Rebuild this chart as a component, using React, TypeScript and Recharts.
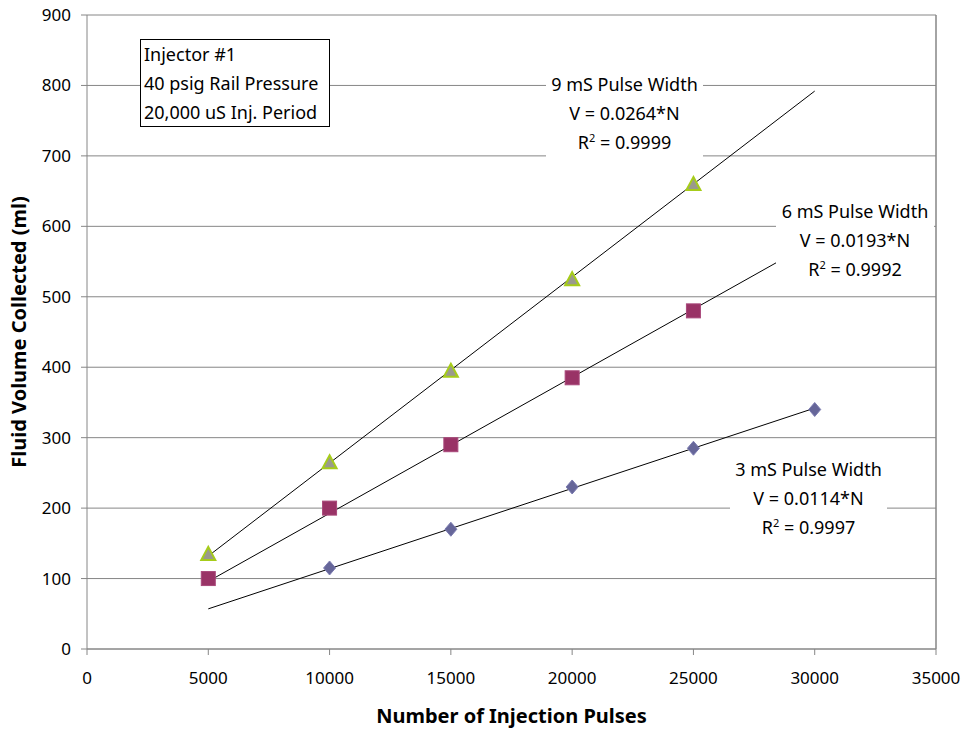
import React from "react"
import {
  ComposedChart,
  Scatter,
  Line,
  XAxis,
  YAxis,
  CartesianGrid,
  ReferenceLine,
} from "recharts"

// measured points (injection pulses -> ml collected)
const pulses9 = [5000, 10000, 15000, 20000, 25000]
const volume9 = [135, 265, 395, 525, 660]
const pulses6 = [5000, 10000, 15000, 20000, 25000]
const volume6 = [100, 200, 290, 385, 480]
const pulses3 = [10000, 15000, 20000, 25000, 30000]
const volume3 = [115, 170, 230, 285, 340]

// trendline end points
const trendPulses9 = [5000, 30000]
const trendVolume9 = [132, 792]
const trendPulses6 = [5000, 28500]
const trendVolume6 = [96, 550]
const trendPulses3 = [5000, 30000]
const trendVolume3 = [57, 342]

const xTicks = [0, 5000, 10000, 15000, 20000, 25000, 30000, 35000]
const yTicks = [0, 100, 200, 300, 400, 500, 600, 700, 800, 900]

const FONT = "'Noto Sans', 'Open Sans', sans-serif"
const GRID = "#868686"

const zip = (xs: number[], ys: number[]) => xs.map((x, i) => ({ x, y: ys[i] }))

const Triangle = (p: any) => (
  <polygon
    points={`${p.cx},${p.cy - 7} ${p.cx + 7},${p.cy + 6} ${p.cx - 7},${p.cy + 6}`}
    fill="#9a9a8c"
    stroke="#a6cc1a"
    strokeWidth={2}
  />
)
const Square = (p: any) => (
  <rect x={p.cx - 7} y={p.cy - 7} width={14} height={14} fill="#993366" stroke="#a8487a" />
)
const Diamond = (p: any) => (
  <polygon
    points={`${p.cx},${p.cy - 7} ${p.cx + 6},${p.cy} ${p.cx},${p.cy + 7} ${p.cx - 6},${p.cy}`}
    fill="#666699"
    stroke="#7a7ab0"
  />
)

const textStyle: React.CSSProperties = {
  position: "absolute",
  fontFamily: FONT,
  fontSize: 18,
  color: "#000",
  background: "white",
  textAlign: "center",
  lineHeight: "29px",
  whiteSpace: "nowrap",
}

function Note({ left, top, width, lines }: { left: number; top: number; width: number; lines: [string, string, string] }) {
  return (
    <div style={{ ...textStyle, left, top, width }}>
      <div>{lines[0]}</div>
      <div>{lines[1]}</div>
      <div>
        R<sup style={{ fontSize: 11, lineHeight: 0 }}>2</sup>
        {lines[2]}
      </div>
    </div>
  )
}

export default function App() {
  return (
    <div style={{ position: "absolute", left: 0, top: 0, width: 965, height: 733, background: "white" }}>
      <ComposedChart
        width={965}
        height={733}
        margin={{ top: 15, right: 29, bottom: 44, left: 27 }}
        style={{ fontFamily: FONT }}
      >
        <CartesianGrid vertical={false} stroke={GRID} />
        <XAxis
          type="number"
          dataKey="x"
          domain={[0, 35000]}
          ticks={xTicks}
          interval={0}
          height={40}
          stroke={GRID}
          tickSize={6}
          tickMargin={17}
          tick={{ fill: "#000", fontSize: 17 }}
          label={{
            value: "Number of Injection Pulses",
            position: "insideBottom",
            offset: -34,
            fill: "#000",
            fontSize: 20,
            fontWeight: "bold",
          }}
        />
        <YAxis
          type="number"
          dataKey="y"
          domain={[0, 900]}
          ticks={yTicks}
          interval={0}
          width={60}
          stroke={GRID}
          tickSize={6}
          tickMargin={10}
          tick={{ fill: "#000", fontSize: 17 }}
          label={{
            value: "Fluid Volume Collected (ml)",
            angle: -90,
            position: "insideLeft",
            offset: -8,
            style: { textAnchor: "middle" },
            fill: "#000",
            fontSize: 20,
            fontWeight: "bold",
          }}
        />
        <ReferenceLine x={35000} stroke={GRID} strokeWidth={1.5} />
        <Scatter data={zip(pulses9, volume9)} shape={Triangle} isAnimationActive={false} />
        <Scatter data={zip(pulses6, volume6)} shape={Square} isAnimationActive={false} />
        <Scatter data={zip(pulses3, volume3)} shape={Diamond} isAnimationActive={false} />
        <Line data={zip(trendPulses9, trendVolume9)} dataKey="y" stroke="#000" strokeWidth={1} dot={false} isAnimationActive={false} />
        <Line data={zip(trendPulses6, trendVolume6)} dataKey="y" stroke="#000" strokeWidth={1} dot={false} isAnimationActive={false} />
        <Line data={zip(trendPulses3, trendVolume3)} dataKey="y" stroke="#000" strokeWidth={1} dot={false} isAnimationActive={false} />
      </ComposedChart>

      <div
        style={{
          ...textStyle,
          left: 140,
          top: 39,
          width: 190,
          height: 88,
          border: "1px solid #000",
          textAlign: "left",
          paddingLeft: 3,
          boxSizing: "border-box",
        }}
      >
        <div>Injector #1</div>
        <div>40 psig Rail Pressure</div>
        <div>20,000 uS Inj. Period</div>
      </div>

      <Note left={546} top={70} width={157} lines={["9 mS Pulse Width", "V = 0.0264*N", " = 0.9999"]} />
      <Note left={776} top={197} width={158} lines={["6 mS Pulse Width", "V = 0.0193*N", " = 0.9992"]} />
      <Note left={730} top={455} width={157} lines={["3 mS Pulse Width", "V = 0.0114*N", " = 0.9997"]} />
    </div>
  )
}
